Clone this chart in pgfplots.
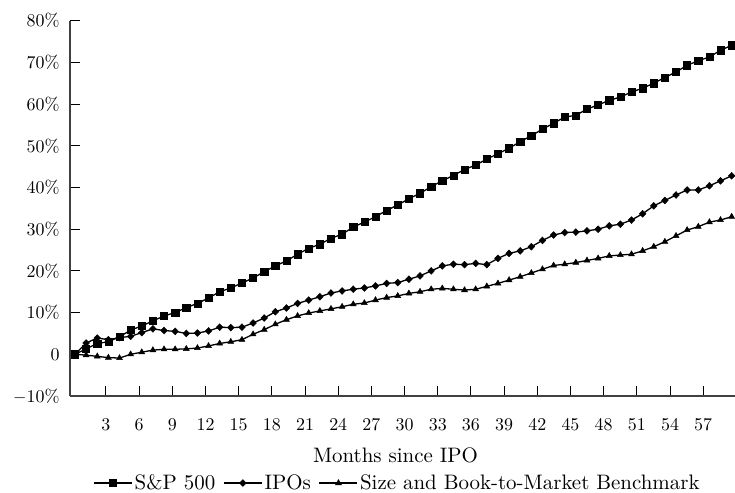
\documentclass[border=0pt]{standalone}
\usepackage{fontspec}
\setmainfont{lmroman10-regular.otf}[BoldFont=lmroman10-bold.otf, ItalicFont=lmroman10-italic.otf]
\usepackage{pgfplots}
\pgfplotsset{compat=1.18}
\usepackage{pgfplotstable}
\pgfplotstableread{
i sp ipo bm
0 0.0 0.0 0.0
1 1.3 2.7 -0.2
2 2.6 3.9 -0.5
3 3.0 3.5 -0.8
4 4.2 4.0 -0.9
5 5.8 4.3 0.0
6 6.8 5.2 0.5
7 8.0 6.1 1.0
8 9.2 5.7 1.2
9 10.0 5.5 1.2
10 11.2 5.0 1.3
11 12.2 5.1 1.5
12 13.5 5.6 2.0
13 15.0 6.5 2.6
14 15.9 6.4 3.0
15 17.1 6.5 3.5
16 18.3 7.5 4.8
17 19.8 8.7 5.9
18 21.2 10.2 7.2
19 22.4 11.1 8.3
20 24.0 12.2 9.2
21 25.4 13.0 9.9
22 26.4 13.8 10.4
23 27.8 14.7 10.9
24 28.8 15.2 11.4
25 30.5 15.6 12.0
26 31.7 15.9 12.3
27 33.0 16.4 13.0
28 34.5 17.0 13.6
29 35.8 17.2 14.0
30 37.3 18.0 14.6
31 38.6 18.8 15.0
32 40.2 20.0 15.6
33 41.6 21.2 15.8
34 42.9 21.6 15.6
35 44.3 21.5 15.4
36 45.4 21.8 15.6
37 46.8 21.5 16.3
38 48.1 23.0 17.0
39 49.4 24.2 17.8
40 51.0 24.8 18.6
41 52.4 25.8 19.5
42 54.0 27.3 20.4
43 55.4 28.6 21.3
44 56.9 29.2 21.6
45 57.3 29.3 22.0
46 58.8 29.6 22.5
47 59.8 30.0 23.0
48 60.9 30.8 23.6
49 61.7 31.2 23.8
50 62.9 32.2 24.0
51 63.8 33.7 24.8
52 65.0 35.6 25.8
53 66.4 36.9 27.0
54 67.7 38.2 28.4
55 69.3 39.4 29.8
56 70.4 39.4 30.6
57 71.3 40.4 31.7
58 72.9 41.6 32.2
59 74.1 42.8 33.0
}\data
\begin{document}
\begin{tikzpicture}
\begin{axis}[
  scale only axis,
  width=665bp, height=375.3bp,
  xmin=-0.449, xmax=59.30,
  ymin=-10, ymax=80,
  axis lines=left,
  axis line style={-, draw=black!75, line width=1.8bp},
  tick align=inside,
  major tick length=10bp,
  major tick style={black, line width=1bp},
  clip=false,
  xtick={2.783,5.764,8.745,11.726,14.708,17.689,20.670,23.651,26.632,29.613,32.594,35.575,38.556,41.537,44.519,47.500,50.481,53.462,56.443},
  xticklabels={3,6,9,12,15,18,21,24,27,30,33,36,39,42,45,48,51,54,57},
  ytick={-10,0,10,20,30,40,50,60,70,80},
  yticklabels={$-$10\%,0,10\%,20\%,30\%,40\%,50\%,60\%,70\%,80\%},
  tick label style={font=\fontsize{18}{20}\selectfont},
  xticklabel style={anchor=base, yshift=-35bp},
  yticklabel style={anchor=east, xshift=-7bp},
  xlabel={Months since IPO},
  xlabel style={at={(axis description cs:0.4895,-0.157)}, anchor=center, font=\fontsize{21}{24}\selectfont},
  legend columns=-1,
  legend style={at={(axis description cs:0.4925,-0.232)}, anchor=center, draw=none,
    font=\fontsize{21}{24}\selectfont,
    /tikz/every even column/.append style={column sep=6bp}},
  legend image code/.code={\draw[mark repeat=2,mark phase=2] plot coordinates {(0bp,0bp) (19bp,0bp) (38bp,0bp)};},
  every axis plot/.append style={black, line width=1.3bp},
]
\addplot[mark=square*, mark size=3.6bp, mark options={line width=0.5bp}] table[x=i, y=sp] {\data};
\addlegendentry{S\&P 500}
\addplot[mark=diamond*, mark size=3.4bp, mark options={line width=0.5bp, xscale=1.3}] table[x=i, y=ipo] {\data};
\addlegendentry{IPOs}
\addplot[mark=triangle*, mark size=3.4bp, mark options={line width=0.5bp}] table[x=i, y=bm] {\data};
\addlegendentry{Size and Book-to-Market Benchmark}
\coordinate (SW) at (rel axis cs:0,0);
\coordinate (NE) at (rel axis cs:1,1);
\end{axis}
\path (SW) ++(-70bp,-97bp) coordinate (A);
\path (NE) ++(0bp,20.7bp) coordinate (B);
\pgfresetboundingbox
\path (A) rectangle (B);
\end{tikzpicture}
\end{document}
